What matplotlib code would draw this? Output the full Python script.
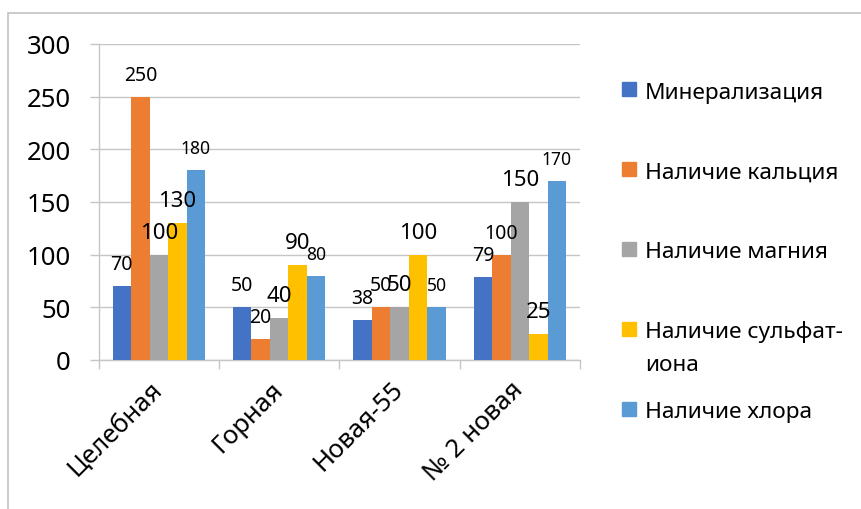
import matplotlib

matplotlib.use("Agg")
import matplotlib.pyplot as plt
import numpy as np
from matplotlib.patches import Rectangle

plt.rcParams["font.family"] = ["Noto Sans", "DejaVu Sans"]

# data
categories = ["Целебная", "Горная", "Новая-55", "№ 2 новая"]
series_names = [
    "Минерализация",
    "Наличие кальция",
    "Наличие магния",
    "Наличие сульфат-\nиона",
    "Наличие хлора",
]
mineralization = [70, 50, 38, 79]
calcium = [250, 20, 50, 100]
magnesium = [100, 40, 50, 150]
sulfate = [130, 90, 100, 25]
chlorine = [180, 80, 50, 170]

series = [mineralization, calcium, magnesium, sulfate, chlorine]
colors = ["#4472C4", "#ED7D31", "#A5A5A5", "#FFC000", "#5B9BD5"]
label_sizes = [14, 14, 16, 16, 12.6]
grid_color = "#c6c6c6"

W, H = 861, 510
fig = plt.figure(figsize=(W / 100, H / 100), dpi=100)

# outer chart frame (cut off on the right and bottom like the source)
fig.patches.append(
    Rectangle((8 / W, -0.2), 1.5, 1.2 - 14 / H, transform=fig.transFigure,
              fill=False, edgecolor="#bdbdbd", linewidth=1.1)
)

ax = fig.add_axes([98.7 / W, 1 - 361 / H, (580 - 98.7) / W, (361 - 45) / H])

x = np.arange(len(categories))
width = 1 / 6.5
for i, values in enumerate(series):
    pos = x + (i - 2) * width
    ax.bar(pos, values, width, color=colors[i], zorder=3)
    for px, v in zip(pos, values):
        ax.annotate(str(v), (px, v), xytext=(0, 12.2), textcoords="offset points",
                    ha="center", va="baseline", fontsize=label_sizes[i], zorder=4)

ax.set_xlim(-0.5, len(categories) - 0.5)
ax.set_ylim(0, 300)
ax.set_yticks(range(0, 301, 50))
ax.yaxis.grid(True, color=grid_color, linewidth=1.0)
ax.set_axisbelow(True)

for side in ("top", "right"):
    ax.spines[side].set_visible(False)
for side in ("left", "bottom"):
    ax.spines[side].set_color(grid_color)
    ax.spines[side].set_linewidth(1.0)

ax.tick_params(axis="y", length=6.5, width=1.0, color=grid_color, labelsize=18.5, pad=13.5)

ax.set_xticks(x, categories)
ax.set_xticks(np.arange(-0.5, len(categories)), minor=True)
ax.tick_params(axis="x", which="major", length=0, labelsize=18.5, pad=18)
ax.tick_params(axis="x", which="minor", length=6.5, width=1.0, color=grid_color)
for lbl in ax.get_xticklabels():
    lbl.set_rotation(45)
    lbl.set_ha("right")
    lbl.set_va("center")
    lbl.set_rotation_mode("anchor")

# legend on the right, one entry every 80 px, wrapped lines every 33 px
for i, name in enumerate(series_names):
    yc = 90 + 80 * i
    fig.patches.append(
        Rectangle((622 / W, 1 - (yc + 7) / H), 14 / W, 14 / H,
                  transform=fig.transFigure, color=colors[i])
    )
    for j, line in enumerate(name.split("\n")):
        fig.text(645 / W, 1 - (yc + 8.5 + 33 * j) / H, line, fontsize=16.3,
                 ha="left", va="baseline")

fig.savefig("out.png", dpi=100)
plt.close(fig)
